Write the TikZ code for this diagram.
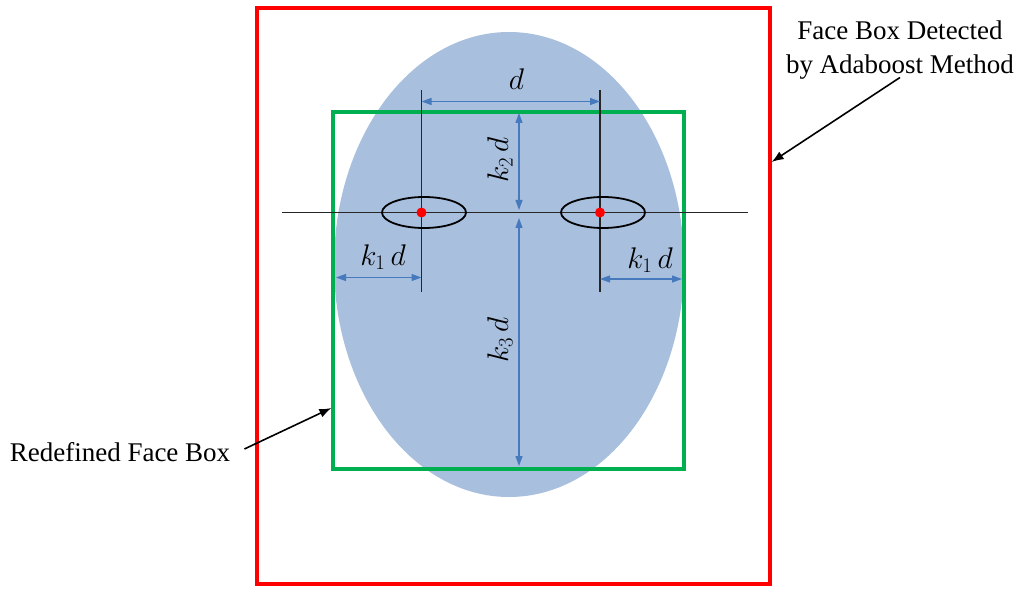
\documentclass[tikz,border=0pt]{standalone}
\usepackage{graphicx}
\usepackage{fontspec}
\setmainfont{Liberation Serif}
\usetikzlibrary{arrows.meta,shapes.geometric}
\definecolor{facefill}{RGB}{168,191,222}
\definecolor{dimblue}{RGB}{70,122,188}
\definecolor{boxgreen}{RGB}{0,176,80}
\newcommand\dimtext[1]{\scalebox{1.2}{$#1$}}

\begin{document}
\begin{tikzpicture}[x=1pt,y=-1pt,
	face/.style={ellipse, fill=facefill, minimum width=350pt, minimum height=465pt, inner sep=0pt},
	eye/.style={ellipse, draw=black, line width=1.8pt, minimum width=84pt, minimum height=31pt, inner sep=0pt},
	pupil/.style={circle, fill=red, minimum size=10pt, inner sep=0pt},
	facebox/.style={rectangle, line width=3.2pt, inner sep=0pt},
	guide/.style={draw=black!85, line width=1.1pt},
	dim/.style={{Triangle[length=10pt,width=7pt]}-{Triangle[length=10pt,width=7pt]}, draw=dimblue, line width=1.2pt},
	pointer/.style={-{Latex[length=12pt,width=9pt]}, line width=1.6pt},
	lbl/.style={font=\fontsize{24}{28}\selectfont, inner sep=0pt},
	note/.style={font=\fontsize{27}{34}\selectfont, align=center, inner sep=2pt}]
	\useasboundingbox (0,0) rectangle (1024,593);

	% nodes
	\node[face] (face) at (509,264.5) {};
	\node[facebox, draw=boxgreen, minimum width=351pt, minimum height=357pt] (redefined) at (508.5,290.5) {};
	\node[facebox, draw=red, minimum width=513pt, minimum height=576pt] (detected) at (513.5,296) {};
	\node[note] (detectnote) at (900,50) {Face Box Detected\\by Adaboost Method};
	\node[note] (redefnote) at (120,452) {Redefined Face Box};

	% guide lines
	\coordinate (lefttop) at (421.5,90);
	\coordinate (leftbot) at (421.5,292);
	\coordinate (righttop) at (600,90);
	\coordinate (rightbot) at (600,292);
	\coordinate (lineleft) at (282,212.5);
	\coordinate (lineright) at (748,212.5);
	\draw[guide] (lineleft) -- (lineright);
	\draw[guide] (lefttop) -- (leftbot);
	\draw[guide] (righttop) -- (rightbot);

	% eyes
	\node[eye] (lefteye) at (424,212.5) {};
	\node[eye] (righteye) at (603,212.5) {};
	\node[pupil] (leftpupil) at (421.5,212.5) {};
	\node[pupil] (rightpupil) at (600,212.5) {};

	% dimensions
	\coordinate (dleft) at (421.5,101.5);
	\coordinate (dright) at (600,101.5);
	\coordinate (ktwotop) at (519,113);
	\coordinate (ktwobot) at (519,210);
	\coordinate (kthreetop) at (519,218);
	\coordinate (kthreebot) at (519,466);
	\coordinate (konelefta) at (336,277.5);
	\coordinate (koneleftb) at (421.5,277.5);
	\coordinate (konerighta) at (600,279);
	\coordinate (konerightb) at (682,279);
	\draw[dim] (dleft) -- (dright);
	\draw[dim] (ktwotop) -- (ktwobot);
	\draw[dim] (kthreetop) -- (kthreebot);
	\draw[dim] (konelefta) -- (koneleftb);
	\draw[dim] (konerighta) -- (konerightb);
	\node[lbl] (dlabel) at (516.5,79) {\dimtext{d}};
	\node[lbl, rotate=90] (ktwolabel) at (500,160) {\dimtext{k_2\,d}};
	\node[lbl, rotate=90] (kthreelabel) at (500,340) {\dimtext{k_3\,d}};
	\node[lbl] (koneleftlabel) at (383,257) {\dimtext{k_1\,d}};
	\node[lbl] (konerightlabel) at (650,260) {\dimtext{k_1\,d}};

	% edges
	\coordinate (detecttip) at (detected.east |- 0,162);
	\coordinate (redeftip) at (redefined.west |- 0,408);
	\draw[pointer] ([yshift=4pt]detectnote.south) -- (detecttip);
	\draw[pointer] ([xshift=12pt,yshift=3pt]redefnote.east) -- (redeftip);
\end{tikzpicture}
\end{document}
